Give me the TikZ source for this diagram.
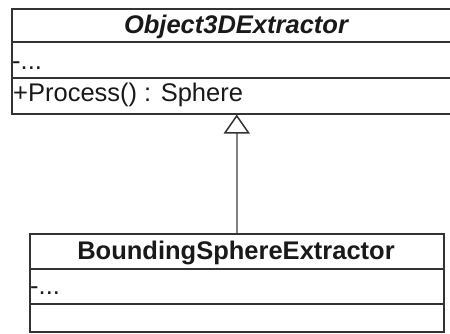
\documentclass[tikz,border=0pt]{standalone}
\usepackage{fontspec}
\setmainfont{Liberation Sans}
\usetikzlibrary{arrows.meta}
\definecolor{boxline}{HTML}{333333}
\definecolor{linkline}{HTML}{808080}
\begin{document}
\begin{tikzpicture}[x=1pt,y=-1pt,
  umlbox/.style={draw=boxline,line width=1.5pt,rectangle,inner sep=0pt,anchor=north west},
  divider/.style={draw=boxline,line width=1.5pt},
  lbl/.style={inner sep=0pt,font=\fontsize{25.5}{28}\selectfont,text=black!90},
  inherit/.style={draw=linkline,line width=1.5pt,-{Triangle[open,length=19pt,width=26pt,line width=1.5pt,color=boxline,fill=white]}}]
  \useasboundingbox (0,0) rectangle (450,333);
  \clip (0,0) rectangle (450,333);

  % abstract base class
  \node[umlbox,minimum width=450pt,minimum height=105pt] (base) at (11,8) {};
  \draw[divider] (11,42) -- (461,42);
  \draw[divider] (11,78) -- (461,78);
  \node[lbl,anchor=base,font=\fontsize{25.5}{28}\selectfont\bfseries\itshape] (baseName) at (236,33) {Object3DExtractor};
  \node[lbl,anchor=base west] (baseAttr) at (12,69) {-...};
  \node[lbl,anchor=base west] (baseOp) at (13,101) {+Process() : Sphere};

  % derived class
  \node[umlbox,minimum width=414pt,minimum height=98pt] (derived) at (29,233) {};
  \draw[divider] (29,269) -- (443,269);
  \draw[divider] (29,304) -- (443,304);
  \node[lbl,anchor=base,font=\fontsize{25.5}{28}\selectfont\bfseries] (derivedName) at (236,259) {BoundingSphereExtractor};
  \node[lbl,anchor=base west] (derivedAttr) at (30,294) {-...};

  % generalization
  \draw[inherit] (derived.north) -- (derived.north |- base.south);
\end{tikzpicture}
\end{document}
